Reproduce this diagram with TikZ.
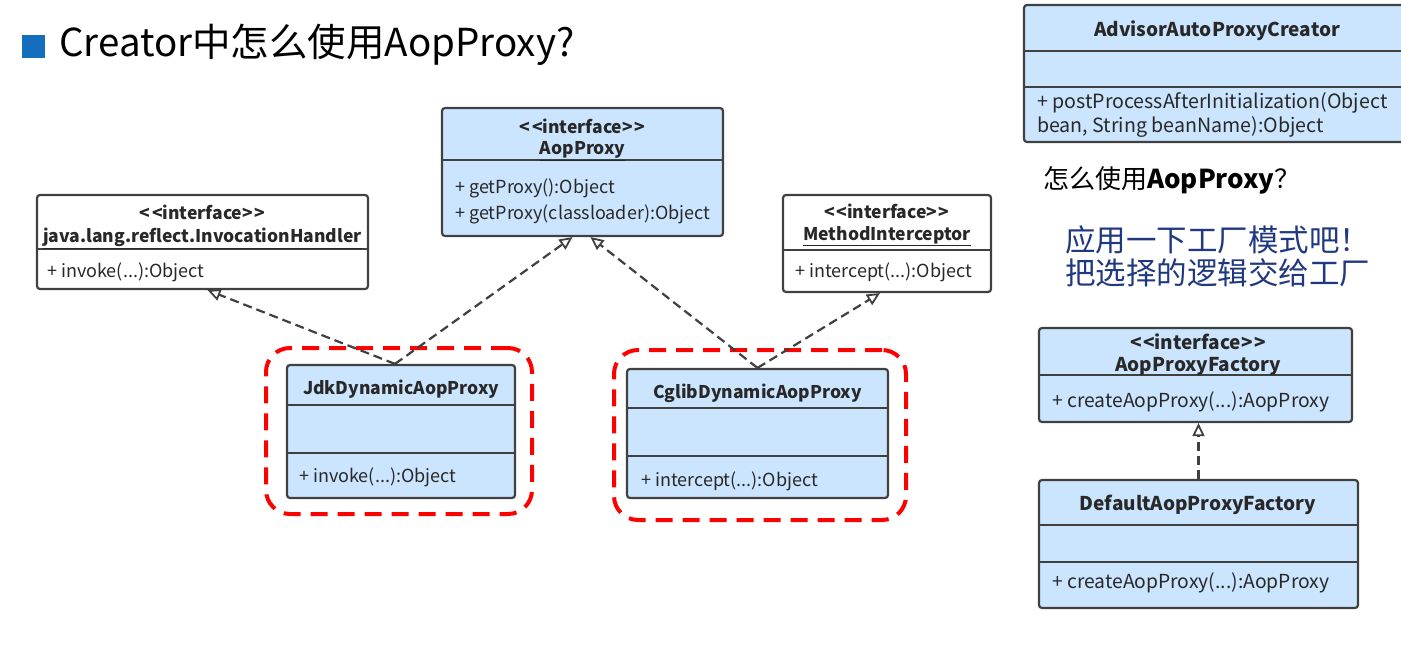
\documentclass[tikz,border=0pt]{standalone}
\usepackage{fontspec}
\setmainfont{Noto Sans CJK SC}
\usetikzlibrary{arrows.meta}
\definecolor{umlblue}{RGB}{204,229,255}
\definecolor{umlline}{RGB}{64,64,64}
\definecolor{umltext}{RGB}{40,40,40}
\definecolor{tipblue}{RGB}{31,56,128}
\definecolor{markblue}{RGB}{20,110,190}
\newcommand{\stereo}{<\kern1.5pt<interface>\kern1.5pt>}
\tikzset{
  cls/.style={draw=umlline, line width=2.2pt, rounded corners=3pt, fill=umlblue, inner sep=0pt},
  ifc/.style={cls, fill=white},
  sepline/.style={draw=umlline, line width=2.2pt},
  hd/.style={font=\bfseries\fontsize{17.5}{21}\selectfont, text=umltext, inner sep=0pt},
  op/.style={font=\fontsize{18}{26}\selectfont, text=umltext, anchor=west, inner sep=0pt, align=left},
  realize/.style={draw=umlline, line width=2.2pt, dash pattern=on 9pt off 5pt,
    -{Triangle[open, length=13pt, width=12pt, line width=1.8pt]}},
  redbox/.style={draw=red, line width=4pt, dash pattern=on 17pt off 10pt, rounded corners=24pt}
}
\begin{document}
\begin{tikzpicture}[x=1pt, y=-1pt]
    \useasboundingbox (0,0) rectangle (1401,662);

    % title
    \node[fill=markblue, minimum size=23pt, inner sep=0pt] (mark) at (33.5,46.5) {};
    \node[anchor=west, inner sep=0pt, font=\fontsize{38.5}{40}\selectfont] (title) at (59,45) {Creator中怎么使用AopProxy?};

    % interfaces
    \node[ifc, minimum width=331pt, minimum height=94pt] (ih) at (202.5,242) {};
    \draw[sepline] ([yshift=-55pt]ih.north west) -- ([yshift=-55pt]ih.north east);
    \node[hd] (ihStereo) at (202.5,212) {\stereo};
    \node[hd] (ihName) at (202.5,238) {\underline{java.lang.reflect.InvocationHandler}};
    \node[op] (ihOp) at (47,272) {+ invoke(...):Object};

    \node[cls, minimum width=281pt, minimum height=128pt] (aop) at (582.5,172) {};
    \draw[sepline] ([yshift=-53pt]aop.north west) -- ([yshift=-53pt]aop.north east);
    \node[hd] (aopStereo) at (582.5,126) {\stereo};
    \node[hd] (aopName) at (582.5,151) {\underline{AopProxy}};
    \node[op] (aopOp) at (455,201) {+ getProxy():Object\\+ getProxy(classloader):Object};

    \node[ifc, minimum width=208pt, minimum height=97pt] (mi) at (887,243.5) {};
    \draw[sepline] ([yshift=-56pt]mi.north west) -- ([yshift=-56pt]mi.north east);
    \node[hd] (miStereo) at (887,211) {\stereo};
    \node[hd] (miName) at (887,236) {\underline{MethodInterceptor}};
    \node[op] (miOp) at (795,272) {+ intercept(...):Object};

    % proxies
    \node[cls, minimum width=228pt, minimum height=133pt] (jdk) at (401,431.5) {};
    \draw[sepline] ([yshift=-41pt]jdk.north west) -- ([yshift=-41pt]jdk.north east);
    \draw[sepline] ([yshift=-89pt]jdk.north west) -- ([yshift=-89pt]jdk.north east);
    \node[hd] (jdkName) at (401,389) {JdkDynamicAopProxy};
    \node[op] (jdkOp) at (299,477) {+ invoke(...):Object};

    \node[cls, minimum width=261pt, minimum height=129pt] (cglib) at (757.5,433.5) {};
    \draw[sepline] ([yshift=-40pt]cglib.north west) -- ([yshift=-40pt]cglib.north east);
    \draw[sepline] ([yshift=-88pt]cglib.north west) -- ([yshift=-88pt]cglib.north east);
    \node[hd] (cglibName) at (757.5,393) {CglibDynamicAopProxy};
    \node[op] (cglibOp) at (641,481) {+ intercept(...):Object};

    \node[redbox, minimum width=266pt, minimum height=166pt] (jdkMark) at (399,431) {};
    \node[redbox, minimum width=292pt, minimum height=170pt] (cglibMark) at (760,435) {};

    \draw[realize] ([xshift=-6pt]jdk.north) -- ([xshift=5pt]ih.south);
    \draw[realize] ([xshift=-6pt]jdk.north) -- ([xshift=-10pt]aop.south);
    \draw[realize] (cglib.north) -- ([xshift=8pt]aop.south);
    \draw[realize] (cglib.north) -- ([xshift=-7pt]mi.south);

    % right side
    \node[cls, minimum width=381pt, minimum height=137pt] (creator) at (1214.5,73.5) {};
    \draw[sepline] ([yshift=-47pt]creator.north west) -- ([yshift=-47pt]creator.north east);
    \draw[sepline] ([yshift=-83pt]creator.north west) -- ([yshift=-83pt]creator.north east);
    \node[hd, font=\bfseries\fontsize{19}{21}\selectfont] (creatorName) at (1217,31) {AdvisorAutoProxyCreator};
    \node[op, font=\fontsize{19.6}{24}\selectfont] (creatorOp) at (1037,115) {+ postProcessAfterInitialization(Object\\bean, String beanName):Object};

    \node[anchor=west, inner sep=0pt, font=\fontsize{26}{28}\selectfont] (ask) at (1043,180) {怎么使用\textbf{AopProxy}？};
    \node[anchor=north west, inner sep=0pt, text=tipblue, align=left, font=\fontsize{30.5}{33}\selectfont] (tip) at (1065,225) {应用一下工厂模式吧！\\把选择的逻辑交给工厂};

    \node[cls, minimum width=313pt, minimum height=94pt] (apf) at (1195.5,375) {};
    \draw[sepline] ([yshift=-48pt]apf.north west) -- ([yshift=-48pt]apf.north east);
    \node[hd, font=\bfseries\fontsize{19}{21}\selectfont] (apfStereo) at (1198,342) {\stereo};
    \node[hd, font=\bfseries\fontsize{19}{21}\selectfont] (apfName) at (1198,366) {AopProxyFactory};
    \node[op, font=\fontsize{19.3}{24}\selectfont] (apfOp) at (1052,402) {+ createAopProxy(...):AopProxy};

    \node[cls, minimum width=319pt, minimum height=128pt] (dpf) at (1198.5,544) {};
    \draw[sepline] ([yshift=-46pt]dpf.north west) -- ([yshift=-46pt]dpf.north east);
    \draw[sepline] ([yshift=-83pt]dpf.north west) -- ([yshift=-83pt]dpf.north east);
    \node[hd, font=\bfseries\fontsize{19}{21}\selectfont] (dpfName) at (1198,505) {DefaultAopProxyFactory};
    \node[op, font=\fontsize{19.3}{24}\selectfont] (dpfOp) at (1052,583) {+ createAopProxy(...):AopProxy};

    \draw[realize] (dpf.north) -- (dpf.north |- apf.south);
\end{tikzpicture}
\end{document}
